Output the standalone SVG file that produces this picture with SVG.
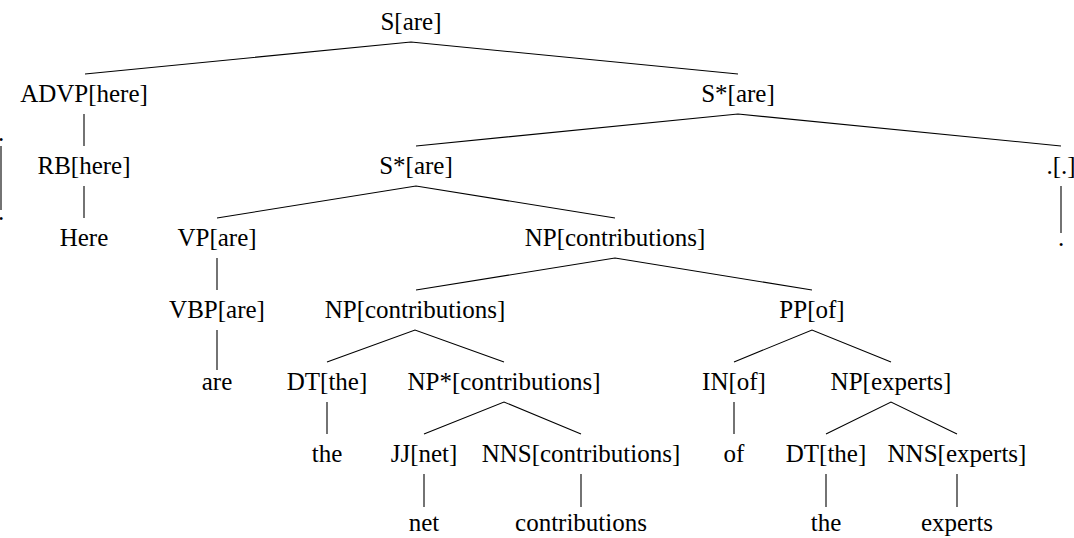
<svg xmlns="http://www.w3.org/2000/svg" width="1074" height="538" viewBox="0 0 1074 538" font-family="Liberation Serif, serif">
  <style>
    text { font-size: 25px; fill: #000; text-anchor: middle; }
    .edge { stroke: #000; stroke-width: 1.1; fill: none; stroke-linecap: butt; }
  </style>
  <rect width="1074" height="538" fill="#fff"/>

  <!-- connectors -->
  <g id="edges" class="edge">
    <!-- S[are] -->
    <polyline points="85,74 411,42 738,74"/>
    <!-- ADVP -> RB -> Here -->
    <line x1="84" y1="114" x2="84" y2="146"/>
    <line x1="84" y1="186" x2="84" y2="218"/>
    <!-- S*[are] upper -->
    <polyline points="416,146 738,114 1061,146"/>
    <!-- .[.] -> . -->
    <line x1="1061" y1="186" x2="1061" y2="233"/>
    <!-- S*[are] lower -->
    <polyline points="217,218 416,186 615,218"/>
    <!-- VP -> VBP -> are -->
    <line x1="217" y1="258" x2="217" y2="290"/>
    <line x1="217" y1="330" x2="217" y2="370"/>
    <!-- NP[contributions] upper -->
    <polyline points="416,290 615,258 812,290"/>
    <!-- NP[contributions] lower -->
    <polyline points="327,362 415,330 504,362"/>
    <!-- PP[of] -->
    <polyline points="734,362 812,330 891,362"/>
    <!-- DT -> the, IN -> of -->
    <line x1="327" y1="402" x2="327" y2="434"/>
    <line x1="734" y1="402" x2="734" y2="434"/>
    <!-- NP*[contributions] -->
    <polyline points="424,434 504,402 581,434"/>
    <!-- NP[experts] -->
    <polyline points="826,434 891,402 957,434"/>
    <!-- preterminals -> leaves -->
    <line x1="424" y1="474" x2="424" y2="507"/>
    <line x1="581" y1="474" x2="581" y2="507"/>
    <line x1="826" y1="474" x2="826" y2="507"/>
    <line x1="957" y1="474" x2="957" y2="507"/>
    <!-- clipped branch at the left margin -->
    <line x1="1" y1="146" x2="1" y2="210"/>
  </g>

  <!-- clipped fragment at the left margin -->
  <g id="edge-fragment">
    <text x="-2" y="141" style="text-anchor:start">.</text>
    <text x="-2" y="220" style="text-anchor:start">.</text>
  </g>

  <!-- nodes -->
  <g id="n-S"><text x="411" y="30">S[are]</text></g>
  <g id="n-ADVP"><text x="84" y="102">ADVP[here]</text></g>
  <g id="n-Sstar1"><text x="738" y="102">S*[are]</text></g>
  <g id="n-RB"><text x="84" y="174">RB[here]</text></g>
  <g id="n-Sstar2"><text x="416" y="174">S*[are]</text></g>
  <g id="n-punct"><text x="1061" y="174">.[.]</text></g>
  <g id="w-Here"><text x="84" y="246">Here</text></g>
  <g id="n-VP"><text x="217" y="246">VP[are]</text></g>
  <g id="n-NP1"><text x="615" y="246">NP[contributions]</text></g>
  <g id="w-period"><text x="1061" y="246">.</text></g>
  <g id="n-VBP"><text x="217" y="318">VBP[are]</text></g>
  <g id="n-NP2"><text x="415" y="318">NP[contributions]</text></g>
  <g id="n-PP"><text x="812" y="318">PP[of]</text></g>
  <g id="w-are"><text x="217" y="390">are</text></g>
  <g id="n-DT1"><text x="327" y="390">DT[the]</text></g>
  <g id="n-NPstar"><text x="504" y="390">NP*[contributions]</text></g>
  <g id="n-IN"><text x="734" y="390">IN[of]</text></g>
  <g id="n-NP3"><text x="891" y="390">NP[experts]</text></g>
  <g id="w-the1"><text x="327" y="462">the</text></g>
  <g id="n-JJ"><text x="424" y="462">JJ[net]</text></g>
  <g id="n-NNS1"><text x="581" y="462">NNS[contributions]</text></g>
  <g id="w-of"><text x="734" y="462">of</text></g>
  <g id="n-DT2"><text x="826" y="462">DT[the]</text></g>
  <g id="n-NNS2"><text x="957" y="462">NNS[experts]</text></g>
  <g id="w-net"><text x="424" y="531">net</text></g>
  <g id="w-contributions"><text x="581" y="531">contributions</text></g>
  <g id="w-the2"><text x="826" y="531">the</text></g>
  <g id="w-experts"><text x="957" y="531">experts</text></g>
</svg>
